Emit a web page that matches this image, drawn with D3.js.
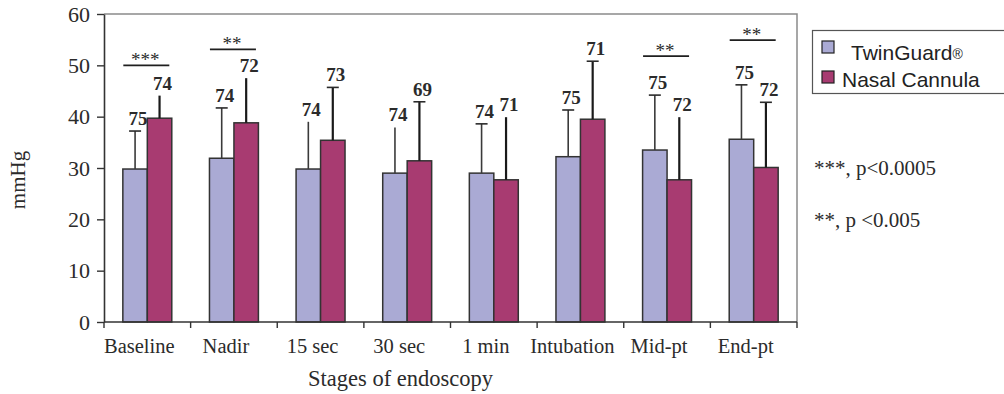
<!DOCTYPE html>
<html>
<head>
<meta charset="utf-8">
<script src="https://cdn.jsdelivr.net/npm/d3@7"></script>
<style>
  html, body { margin: 0; padding: 0; background: #fff; }
  svg { display: block; }
</style>
</head>
<body>
<svg id="chart" width="1004" height="394"></svg>
<script>
// End-tidal CO2 (mmHg) at each stage of endoscopy, mean + SD, with n above each bar
const categories = ["Baseline", "Nadir", "15 sec", "30 sec", "1 min", "Intubation", "Mid-pt", "End-pt"];
const seriesNames = ["TwinGuard", "Nasal Cannula"];

const twinGuardMean = [29.8, 31.9, 29.8, 29.0, 29.0, 32.2, 33.5, 35.6];
const twinGuardSD   = [7.4, 9.8, 9.2, 8.9, 9.6, 9.1, 10.7, 10.6];
const twinGuardN    = [75, 74, 74, 74, 74, 75, 75, 75];

const nasalMean = [39.7, 38.8, 35.4, 31.4, 27.7, 39.5, 27.7, 30.1];
const nasalSD   = [4.4, 8.7, 10.3, 11.5, 12.2, 11.3, 12.2, 12.7];
const nasalN    = [74, 72, 73, 69, 71, 71, 72, 72];

const yTicks = [0, 10, 20, 30, 40, 50, 60];

// significance brackets: stage, stars, height (mmHg)
const sigStages = ["Baseline", "Nadir", "Mid-pt", "End-pt"];
const sigStars  = ["***", "**", "**", "**"];
const sigLevel  = [50, 53.1, 51.8, 54.9];

const footnotes = ["***, p<0.0005", "**, p <0.005"];

// ---- layout & style ----
const plot = { left: 104, right: 797, top: 14, bottom: 322 };
const colors = { "TwinGuard": "#aaaad4", "Nasal Cannula": "#a83b71" };
const serif = "'Liberation Serif', 'Times New Roman', serif";
const sans = "'Liberation Sans', Arial, sans-serif";
const ink = "#2b2b2b";
// error bars drawn without a cap
const noCap = new Set(["Baseline|Nasal Cannula", "Nadir|Nasal Cannula", "15 sec|TwinGuard",
  "30 sec|TwinGuard", "1 min|Nasal Cannula", "Mid-pt|Nasal Cannula"]);

const svg = d3.select("#chart");

const x0 = d3.scaleBand().domain(categories).range([plot.left, plot.right]).paddingInner(0).paddingOuter(0);
const x1 = d3.scaleBand().domain(seriesNames).range([0, x0.bandwidth()]).paddingInner(0).paddingOuter(0.77);
const y = d3.scaleLinear().domain([0, 60]).range([plot.bottom, plot.top]);

const rows = [];
categories.forEach((c, i) => {
  rows.push({ cat: c, series: "TwinGuard", mean: twinGuardMean[i], sd: twinGuardSD[i], n: twinGuardN[i] });
  rows.push({ cat: c, series: "Nasal Cannula", mean: nasalMean[i], sd: nasalSD[i], n: nasalN[i] });
});

// plot frame (top and right)
svg.append("path")
  .attr("d", `M${plot.left},${plot.top}H${plot.right}V${plot.bottom}`)
  .attr("fill", "none").attr("stroke", "#8a8a8a").attr("stroke-width", 1.5);

// bars
svg.append("g").selectAll("rect").data(rows).join("rect")
  .attr("x", d => x0(d.cat) + x1(d.series))
  .attr("y", d => y(d.mean))
  .attr("width", x1.bandwidth())
  .attr("height", d => y(0) - y(d.mean))
  .attr("fill", d => colors[d.series])
  .attr("stroke", "#333").attr("stroke-width", 1.5);

// error bars
const eb = svg.append("g").selectAll("g").data(rows).join("g");
eb.append("line")
  .attr("x1", d => x0(d.cat) + x1(d.series) + x1.bandwidth() / 2)
  .attr("x2", d => x0(d.cat) + x1(d.series) + x1.bandwidth() / 2)
  .attr("y1", d => y(d.mean))
  .attr("y2", d => y(d.mean + d.sd))
  .attr("stroke", d => d.series === "TwinGuard" ? "#3a3a3a" : "#1a1a1a")
  .attr("stroke-width", d => d.series === "TwinGuard" ? 1.6 : 2.2);
eb.filter(d => !noCap.has(d.cat + "|" + d.series)).append("line")
  .attr("x1", d => x0(d.cat) + x1(d.series) + x1.bandwidth() / 2 - 6)
  .attr("x2", d => x0(d.cat) + x1(d.series) + x1.bandwidth() / 2 + 6)
  .attr("y1", d => y(d.mean + d.sd))
  .attr("y2", d => y(d.mean + d.sd))
  .attr("stroke", "#2a2a2a").attr("stroke-width", 1.6);

// n labels
svg.append("g").selectAll("text").data(rows).join("text")
  .attr("x", d => x0(d.cat) + x1(d.series) + x1.bandwidth() / 2 + 3)
  .attr("y", d => y(d.mean + d.sd) - 6)
  .attr("text-anchor", "middle")
  .attr("font-family", serif).attr("font-weight", "bold").attr("font-size", 19)
  .attr("fill", ink)
  .text(d => d.n);

// significance brackets
const sig = sigStages.map((s, i) => ({ cat: s, stars: sigStars[i], level: sigLevel[i] }));
const sg = svg.append("g").selectAll("g").data(sig).join("g");
sg.append("line")
  .attr("x1", d => x0(d.cat) + x0.bandwidth() / 2 - 24)
  .attr("x2", d => x0(d.cat) + x0.bandwidth() / 2 + 22)
  .attr("y1", d => y(d.level)).attr("y2", d => y(d.level))
  .attr("stroke", "#1f1f1f").attr("stroke-width", 1.8);
sg.append("text")
  .attr("x", d => x0(d.cat) + x0.bandwidth() / 2 - 2)
  .attr("y", d => y(d.level) + 1)
  .attr("text-anchor", "middle")
  .attr("font-family", serif).attr("font-size", 19).attr("fill", ink)
  .text(d => d.stars);

// y axis
const yAxis = svg.append("g")
  .attr("transform", `translate(${plot.left},0)`)
  .call(d3.axisLeft(y).tickValues(yTicks).tickSize(7).tickSizeOuter(0).tickPadding(7));
yAxis.select(".domain").attr("stroke", "#333").attr("stroke-width", 1.6);
yAxis.selectAll(".tick line").attr("stroke", "#333").attr("stroke-width", 1.4);
yAxis.selectAll(".tick text").attr("font-family", serif).attr("font-size", 22).attr("fill", ink);

// x axis: baseline, ticks between stages, stage labels
const xAxis = svg.append("g");
xAxis.append("line")
  .attr("x1", plot.left).attr("x2", plot.right)
  .attr("y1", plot.bottom).attr("y2", plot.bottom)
  .attr("stroke", "#333").attr("stroke-width", 1.6);
const boundaries = categories.map(c => x0(c)).concat([x0.range()[1]]);
xAxis.selectAll("line.tick").data(boundaries).join("line")
  .attr("class", "tick")
  .attr("x1", d => d).attr("x2", d => d)
  .attr("y1", plot.bottom).attr("y2", plot.bottom + 6)
  .attr("stroke", "#333").attr("stroke-width", 1.4);
xAxis.selectAll("text").data(categories).join("text")
  .attr("x", d => x0(d) + x0.bandwidth() / 2 - 8)
  .attr("y", 353)
  .attr("text-anchor", "middle")
  .attr("font-family", serif).attr("font-size", 20.5).attr("fill", ink)
  .text(d => d);

// axis titles
svg.append("text")
  .attr("x", (plot.left + plot.right) / 2 - 50).attr("y", 386)
  .attr("text-anchor", "middle")
  .attr("font-family", serif).attr("font-size", 22.5).attr("fill", ink)
  .text("Stages of endoscopy");
svg.append("text")
  .attr("transform", "translate(25,180) rotate(-90)")
  .attr("text-anchor", "middle")
  .attr("font-family", serif).attr("font-size", 21).attr("fill", ink)
  .text("mmHg");

// legend
const legend = svg.append("g");
legend.append("rect")
  .attr("x", 812.5).attr("y", 30.5).attr("width", 200).attr("height", 63)
  .attr("fill", "#fff").attr("stroke", "#555").attr("stroke-width", 1.2);
const li = legend.selectAll("g.item").data(seriesNames).join("g").attr("class", "item");
li.append("rect")
  .attr("x", 822).attr("y", (d, i) => 41 + i * 30)
  .attr("width", 12).attr("height", 12)
  .attr("fill", d => colors[d]).attr("stroke", "#222").attr("stroke-width", 1.2);
const lt = li.append("text")
  .attr("x", (d, i) => i === 0 ? 851 : 842)
  .attr("y", (d, i) => 60 + i * 27)
  .attr("font-family", sans).attr("font-size", 21).attr("fill", "#222");
lt.append("tspan").text(d => d);
lt.filter(d => d === "TwinGuard").append("tspan").attr("font-size", 14).attr("dy", -1).text("®");

// footnotes
svg.append("g").selectAll("text").data(footnotes).join("text")
  .attr("x", 814).attr("y", (d, i) => 175 + i * 52)
  .attr("font-family", serif).attr("font-size", 21).attr("fill", ink)
  .text(d => d);
</script>
</body>
</html>
